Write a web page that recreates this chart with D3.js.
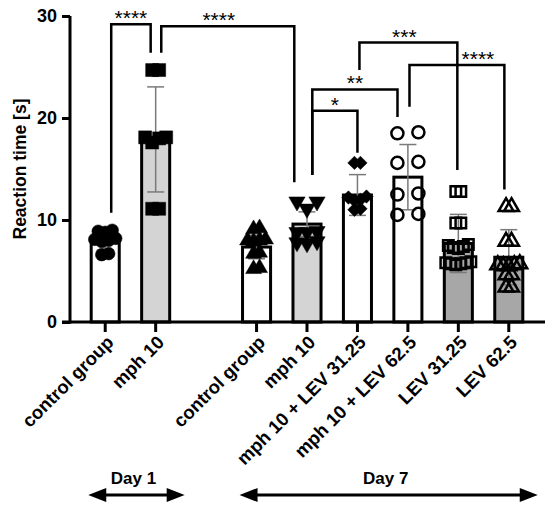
<!DOCTYPE html>
<html>
<head>
<meta charset="utf-8">
<script src="https://cdn.jsdelivr.net/npm/d3@7"></script>
<style>
  body { margin: 0; background: #fff; }
  svg { display: block; font-family: "Liberation Sans", Arial, sans-serif; }
</style>
</head>
<body>
<div id="chart"></div>
<script>
// data
const categories = ["control group", "mph 10", "control group", "mph 10",
  "mph 10 + LEV 31.25", "mph 10 + LEV 62.5", "LEV 31.25", "LEV 62.5"];
const days = ["Day 1", "Day 1", "Day 7", "Day 7", "Day 7", "Day 7", "Day 7", "Day 7"];
const means = [7.9, 17.9, 7.35, 9.6, 12.45, 14.2, 7.7, 6.35];
const sds = [0.85, 5.15, 1.15, 1.2, 2.0, 3.2, 2.85, 2.7];
const yTicks = [0, 10, 20, 30];

const ptsControlD1 = [9.0, 8.9, 8.8, 8.2, 8.1, 8.0, 7.9, 6.7, 6.6];
const ptsMphD1 = [24.7, 24.7, 18.1, 18.1, 18.0, 17.6, 11.1, 11.1];
const ptsControlD7 = [9.2, 9.1, 8.1, 8.0, 8.0, 7.9, 6.8, 6.7, 5.3, 5.2];
const ptsMphD7 = [11.8, 11.8, 11.1, 8.9, 8.8, 8.8, 7.9, 7.8, 7.7];
const ptsMphLev31 = [15.6, 15.6, 12.3, 12.2, 12.0, 11.9, 11.1, 11.0];
const ptsMphLev62 = [18.6, 18.5, 15.7, 15.6, 12.6, 12.5, 10.6, 10.5];
const ptsLev31 = [12.8, 12.8, 9.7, 9.7, 7.6, 7.5, 7.4, 7.3, 7.2, 5.9, 5.8, 5.8, 5.7, 5.7, 5.6];
const ptsLev62 = [11.3, 11.3, 7.9, 7.9, 5.7, 5.6, 5.6, 5.5, 5.5, 4.6, 4.6, 3.4, 3.4];
const points = [ptsControlD1, ptsMphD1, ptsControlD7, ptsMphD7,
  ptsMphLev31, ptsMphLev62, ptsLev31, ptsLev62];

// significance brackets: group a -> group b, bracket height and leg ends (s)
const brackets = [
  { a: 0, b: 1, top: 29.2, endA: 10.7, endB: 26.4, label: "****" },
  { a: 1, b: 3, top: 29.0, endA: 26.4, endB: 13.7, label: "****" },
  { a: 3, b: 4, top: 20.7, endA: 14.4, endB: 16.6, label: "*" },
  { a: 3, b: 5, top: 22.8, endA: 14.4, endB: 20.1, label: "**" },
  { a: 4, b: 6, top: 27.4, endA: 24.7, endB: 14.9, label: "***" },
  { a: 5, b: 7, top: 25.2, endA: 21.1, endB: 13.0, label: "****" },
];
// leg nudges (px) and label nudges, as in the figure
const legShift = [[6, -5], [5.6, -12.7], [5.3, 0], [5.3, -10.4], [2, -1], [1.6, -4.4]];
const labelShift = [0, -9, 0, 0, -4, 21];

// styles
const fills = ["#fff", "#d4d4d4", "#fff", "#d4d4d4", "#fff", "#fff", "#a7a7a7", "#a7a7a7"];
const markers = [
  { sym: d3.symbolCircle, size: 125, filled: true, rot: 0, spread: 7 },
  { sym: d3.symbolSquare, size: 169, filled: true, rot: 0, spread: 7 },
  { sym: d3.symbolTriangle, size: 110, filled: true, rot: 0, spread: 6 },
  { sym: d3.symbolTriangle, size: 115, filled: true, rot: 180, spread: 10 },
  { sym: d3.symbolSquare, size: 90, filled: true, rot: 45, spread: 6 },
  { sym: d3.symbolCircle, size: 115, filled: false, rot: 0, spread: 21 },
  { sym: d3.symbolSquare, size: 110, filled: false, rot: 0, spread: 5 },
  { sym: d3.symbolTriangle, size: 95, filled: false, rot: 0, spread: 5.5 },
];

const width = 550, height = 515;
const svg = d3.select("#chart").append("svg")
  .attr("width", width).attr("height", height);

// slots with an empty gap between the two days
const slotKeys = [];
categories.forEach((c, i) => {
  if (i > 0 && days[i] !== days[i - 1]) slotKeys.push("gap");
  slotKeys.push(String(i));
});

const x = d3.scaleBand().domain(slotKeys).range([80, 534])
  .paddingInner(0.444).paddingOuter(0.222);
const cx = (i) => x(String(i)) + x.bandwidth() / 2;
const y = d3.scaleLinear().domain([0, 30]).range([322, 16]);

// y axis
const yAxis = svg.append("g")
  .attr("transform", "translate(70,0)")
  .call(d3.axisLeft(y).tickValues(yTicks).tickSize(8).tickSizeOuter(0).tickPadding(5));
yAxis.select(".domain").attr("stroke-width", 3).attr("d", `M0,${y(30)}V${y(0) + 1.5}`);
yAxis.selectAll(".tick line").attr("stroke-width", 3);
yAxis.selectAll(".tick text")
  .attr("font-size", 18).attr("font-weight", "bold").attr("fill", "#000");

svg.append("text")
  .attr("transform", `translate(26,${(y(0) + y(30)) / 2}) rotate(-90)`)
  .attr("text-anchor", "middle")
  .attr("font-size", 17.5).attr("font-weight", "bold")
  .text("Reaction time [s]");

// bars
svg.append("g").selectAll("rect")
  .data(means)
  .join("rect")
  .attr("x", (d, i) => x(String(i)))
  .attr("width", x.bandwidth())
  .attr("y", (d) => y(d))
  .attr("height", (d) => y(0) - y(d))
  .attr("fill", (d, i) => fills[i])
  .attr("stroke", "#000")
  .attr("stroke-width", 3);

// error bars (mean ± SD)
const err = svg.append("g").attr("stroke", "#7a7a7a").attr("stroke-width", 1.5);
means.forEach((m, i) => {
  const c = cx(i);
  err.append("line").attr("x1", c).attr("x2", c)
    .attr("y1", y(m - sds[i])).attr("y2", y(m + sds[i]));
  [m - sds[i], m + sds[i]].forEach((v) => {
    err.append("line").attr("x1", c - 8.5).attr("x2", c + 8.5)
      .attr("y1", y(v)).attr("y2", y(v));
  });
});

// points: close values are spread side by side, lowest in the middle
const spreadPoints = (vals, spacing) => {
  const sorted = vals.slice().sort((a, b) => a - b);
  const out = [];
  let cluster = [];
  const flush = () => {
    const n = cluster.length;
    const offs = d3.range(n).map((k) => (k - (n - 1) / 2) * spacing)
      .sort((a, b) => Math.abs(a) - Math.abs(b) || a - b);
    cluster.forEach((v, k) => out.push({ v, dx: offs[k] }));
    cluster = [];
  };
  sorted.forEach((v) => {
    if (cluster.length && Math.abs(y(v) - y(cluster[0])) > 8) flush();
    cluster.push(v);
  });
  flush();
  return out;
};

points.forEach((vals, i) => {
  const mk = markers[i];
  const sym = d3.symbol().type(mk.sym).size(mk.size);
  svg.append("g").selectAll("path")
    .data(spreadPoints(vals, mk.spread))
    .join("path")
    .attr("d", sym)
    .attr("transform", (d) => `translate(${cx(i) + d.dx},${y(d.v)}) rotate(${mk.rot})`)
    .attr("fill", mk.filled ? "#000" : "none")
    .attr("stroke", "#000")
    .attr("stroke-width", mk.filled ? 0.5 : 2.5);
});

// x axis
const xg = svg.append("g");
xg.append("line")
  .attr("x1", 62).attr("x2", 545).attr("y1", y(0)).attr("y2", y(0))
  .attr("stroke", "#000").attr("stroke-width", 3);
categories.forEach((c, i) => {
  xg.append("line")
    .attr("x1", cx(i)).attr("x2", cx(i))
    .attr("y1", y(0)).attr("y2", y(0) + 10)
    .attr("stroke", "#000").attr("stroke-width", 3);
  xg.append("text")
    .attr("transform", `translate(${cx(i) + 5},${y(0) + 17}) rotate(-45)`)
    .attr("text-anchor", "end")
    .attr("dy", "0.35em")
    .attr("font-size", 18.5).attr("font-weight", "bold")
    .text(c);
});

// significance brackets
const br = svg.append("g");
brackets.forEach((b, k) => {
  const xa = cx(b.a) + legShift[k][0];
  const xb = cx(b.b) + legShift[k][1];
  br.append("path")
    .attr("d", `M${xa},${y(b.endA)}V${y(b.top)}H${xb}V${y(b.endB)}`)
    .attr("fill", "none").attr("stroke", "#000").attr("stroke-width", 2.5);
  br.append("text")
    .attr("x", (xa + xb) / 2 + labelShift[k])
    .attr("y", y(b.top) + 1)
    .attr("text-anchor", "middle")
    .attr("font-size", 21)
    .text(b.label);
});

// day arrows
const dayNames = Array.from(new Set(days));
const arrowY = 495;
dayNames.forEach((dn) => {
  const idx = d3.range(categories.length).filter((i) => days[i] === dn);
  const x0 = cx(idx[0]) - 17;
  const x1 = cx(idx[idx.length - 1]) + 29;
  const g = svg.append("g");
  g.append("line")
    .attr("x1", x0 + 10).attr("x2", x1 - 10)
    .attr("y1", arrowY).attr("y2", arrowY)
    .attr("stroke", "#000").attr("stroke-width", 3);
  g.append("path")
    .attr("d", `M${x0},${arrowY}L${x0 + 18},${arrowY - 7}V${arrowY + 7}Z`);
  g.append("path")
    .attr("d", `M${x1},${arrowY}L${x1 - 18},${arrowY - 7}V${arrowY + 7}Z`);
  g.append("text")
    .attr("x", (cx(idx[0]) + cx(idx[idx.length - 1])) / 2 + 3)
    .attr("y", 484)
    .attr("text-anchor", "middle")
    .attr("font-size", 17).attr("font-weight", "bold")
    .text(dn);
});
</script>
</body>
</html>
